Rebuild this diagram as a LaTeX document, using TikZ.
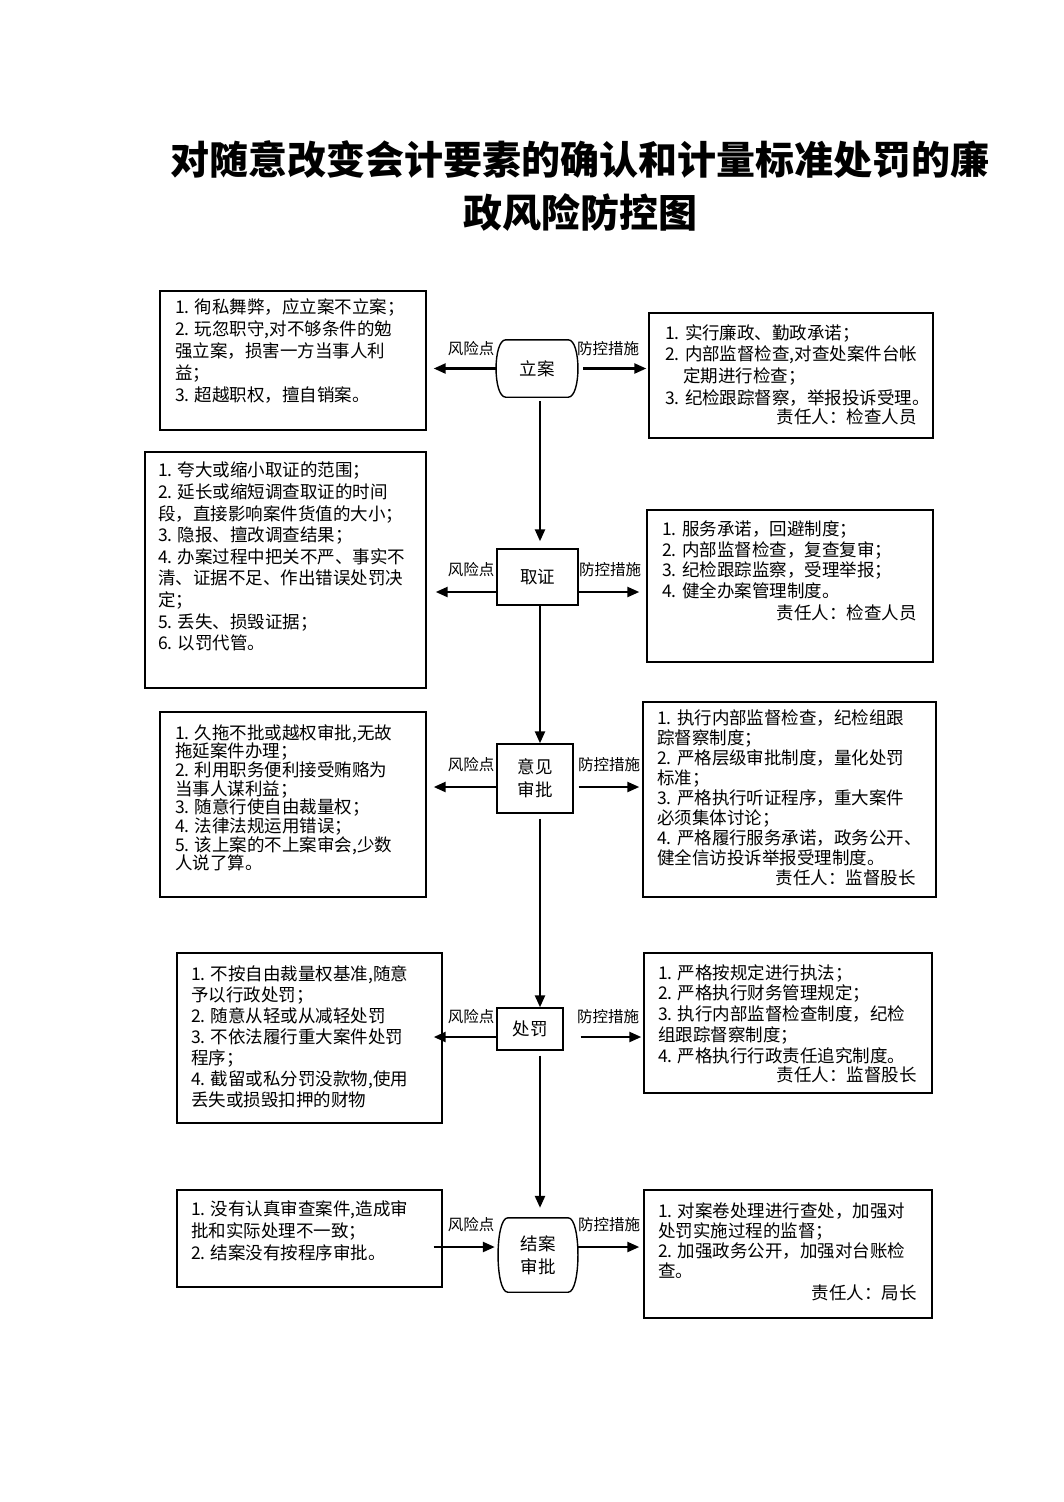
\documentclass[tikz,border=0pt]{standalone}
\usepackage{fontspec}
\setmainfont{Noto Sans CJK SC}
\usetikzlibrary{arrows.meta,fit}
\newcommand\drawbarrel[1]{%
 \draw[line width=1.4pt] ([xshift=10pt]#1.north west) -- ([xshift=-10pt]#1.north east)
   .. controls ([xshift=3pt]#1.north east) and ([xshift=3pt]#1.south east) .. ([xshift=-10pt]#1.south east)
   -- ([xshift=10pt]#1.south west)
   .. controls ([xshift=-3pt]#1.south west) and ([xshift=-3pt]#1.north west) .. ([xshift=10pt]#1.north west) -- cycle;}
\begin{document}
\begin{tikzpicture}[x=1pt,y=-1pt,
  box/.style={draw, line width=1.4pt, inner sep=0pt},
  txt/.style={anchor=north west, inner sep=0pt, align=left},
  arr/.style={line width=2.4pt, -{Triangle[length=12pt,width=10pt]}},
  lbl/.style={font=\fontsize{15.5}{18}\selectfont, inner sep=0pt},
  who/.style={anchor=east, inner sep=0pt, font=\fontsize{17.5}{20}\selectfont},
  proc/.style={inner sep=0pt},
  ptxt/.style={font=\fontsize{17.5}{23}\selectfont, align=center, inner sep=0pt}]
\useasboundingbox[fill=white] (0,0) rectangle (1063,1502);

% title
\node[font=\bfseries\fontsize{39}{53}\selectfont, align=center, inner sep=0pt] (title) at (580,186.5)
  {对随意改变会计要素的确认和计量标准处罚的廉\\政风险防控图};

\coordinate (axis) at (540,0);

% ---------- row 1 ----------
\node[box, fit={(160,291) (426,430)}] (L1) {};
\node[txt, font=\fontsize{17.5}{22}\selectfont] (L1t) at (175,298)
  {1. 徇私舞弊，应立案不立案；\\2. 玩忽职守,对不够条件的勉\\强立案，损害一方当事人利\\益；\\3. 超越职权，擅自销案。};
\node[proc, fit={(496,340) (578,397)}] (la) {};
\drawbarrel{la}
\node[ptxt] (lat) at (la.center) {立案};
\node[box, fit={(649,313) (933,438)}] (R1) {};
\node[txt, font=\fontsize{17.5}{21.7}\selectfont] (R1t) at (665,324)
  {1. 实行廉政、勤政承诺；\\2. 内部监督检查,对查处案件台帐\\\hspace*{18pt}定期进行检查；\\3. 纪检跟踪督察，举报投诉受理。};
\node[who] (R1w) at (917,417) {责任人：检查人员};
\node[lbl] (k1) at (471,349) {风险点};
\node[lbl] (f1) at (608,349) {防控措施};
\draw[arr, shorten >=7pt] (la.west) -- (la.west -| L1.east);
\draw[arr, shorten <=5pt, shorten >=2pt] (la.east) -- (la.east -| R1.west);

% ---------- row 2 ----------
\node[box, fit={(145,452) (426,688)}] (L2) {};
\node[txt, font=\fontsize{17.5}{21.6}\selectfont] (L2t) at (158,462)
  {1. 夸大或缩小取证的范围；\\2. 延长或缩短调查取证的时间\\段，直接影响案件货值的大小；\\3. 隐报、擅改调查结果；\\4. 办案过程中把关不严、事实不\\清、证据不足、作出错误处罚决\\定；\\5. 丢失、损毁证据；\\6. 以罚代管。};
\node[box, fit={(497,549) (578,605)}] (qz) {};
\node[ptxt] (qzt) at (qz.center) {取证};
\node[box, fit={(647,510) (933,662)}] (R2) {};
\node[txt, font=\fontsize{17.5}{20.5}\selectfont] (R2t) at (662,521)
  {1. 服务承诺，回避制度；\\2. 内部监督检查，复查复审；\\3. 纪检跟踪监察，受理举报；\\4. 健全办案管理制度。};
\node[who] (R2w) at (917,613) {责任人：检查人员};
\node[lbl] (k2) at (471,570) {风险点};
\node[lbl] (f2) at (610,570) {防控措施};
\coordinate (qzL) at ([yshift=-15pt]qz.west);
\coordinate (qzR) at ([yshift=-15pt]qz.east);
\draw[arr, shorten >=9pt] (qzL) -- (qzL -| L2.east);
\draw[arr, shorten >=7pt] (qzR) -- (qzR -| R2.west);

% ---------- row 3 ----------
\node[box, fit={(160,712) (426,897)}] (L3) {};
\node[txt, font=\fontsize{17.5}{18.7}\selectfont] (L3t) at (175,724)
  {1. 久拖不批或越权审批,无故\\拖延案件办理；\\2. 利用职务便利接受贿赂为\\当事人谋利益；\\3. 随意行使自由裁量权；\\4. 法律法规运用错误；\\5. 该上案的不上案审会,少数\\人说了算。};
\node[box, fit={(497,744) (573,813)}] (yj) {};
\node[ptxt] (yjt) at (yj.center) {意见\\审批};
\node[box, fit={(643,702) (936,897)}] (R3) {};
\node[txt, font=\fontsize{17.5}{20.1}\selectfont] (R3t) at (657,709)
  {1. 执行内部监督检查，纪检组跟\\踪督察制度；\\2. 严格层级审批制度，量化处罚\\标准；\\3. 严格执行听证程序，重大案件\\必须集体讨论；\\4. 严格履行服务承诺，政务公开、\\健全信访投诉举报受理制度。};
\node[who] (R3w) at (916,878) {责任人：监督股长};
\node[lbl] (k3) at (471,765) {风险点};
\node[lbl] (f3) at (609,765) {防控措施};
\coordinate (yjL) at ([yshift=-8.5pt]yj.west);
\coordinate (yjR) at ([yshift=-8.5pt]yj.east);
\draw[arr, shorten >=7pt] (yjL) -- (yjL -| L3.east);
\draw[arr, shorten <=5pt, shorten >=3pt] (yjR) -- (yjR -| R3.west);

% ---------- row 4 ----------
\node[box, fit={(177,953) (442,1123)}] (L4) {};
\node[txt, font=\fontsize{17.5}{21.1}\selectfont] (L4t) at (191,965)
  {1. 不按自由裁量权基准,随意\\予以行政处罚；\\2. 随意从轻或从减轻处罚\\3. 不依法履行重大案件处罚\\程序；\\4. 截留或私分罚没款物,使用\\丢失或损毁扣押的财物};
\node[box, fit={(497,1008) (563,1050)}] (cf) {};
\node[ptxt] (cft) at (cf.center) {处罚};
\node[box, fit={(644,953) (932,1093)}] (R4) {};
\node[txt, font=\fontsize{17.5}{20.75}\selectfont] (R4t) at (658,964)
  {1. 严格按规定进行执法；\\2. 严格执行财务管理规定；\\3. 执行内部监督检查制度，纪检\\组跟踪督察制度；\\4. 严格执行行政责任追究制度。};
\node[who] (R4w) at (917,1075) {责任人：监督股长};
\node[lbl] (k4) at (471,1017) {风险点};
\node[lbl] (f4) at (608,1017) {防控措施};
\coordinate (cfL) at ([yshift=-8pt]cf.west);
\coordinate (cfR) at ([yshift=-8pt]cf.east);
\draw[arr, shorten >=-9pt] (cfL) -- (cfL -| L4.east);
\draw[arr, shorten <=17pt, shorten >=2pt] (cfR) -- (cfR -| R4.west);

% ---------- row 5 ----------
\node[box, fit={(177,1190) (442,1287)}] (L5) {};
\node[txt, font=\fontsize{17.5}{22}\selectfont] (L5t) at (191,1200)
  {1. 没有认真审查案件,造成审\\批和实际处理不一致；\\2. 结案没有按程序审批。};
\node[proc, fit={(498,1218) (578,1292)}] (ja) {};
\drawbarrel{ja}
\node[ptxt] (jat) at (ja.center) {结案\\审批};
\node[box, fit={(644,1190) (932,1318)}] (R5) {};
\node[txt, font=\fontsize{17.5}{20}\selectfont] (R5t) at (658,1202)
  {1. 对案卷处理进行查处，加强对\\处罚实施过程的监督；\\2. 加强政务公开，加强对台账检\\查。};
\node[who] (R5w) at (917,1293) {责任人：局长};
\node[lbl] (k5) at (471,1225) {风险点};
\node[lbl] (f5) at (609,1225) {防控措施};
\coordinate (jaL) at ([yshift=8pt]ja.west);
\coordinate (jaR) at ([yshift=8pt]ja.east);
\draw[arr, shorten <=-9pt, shorten >=3pt] (jaL -| L5.east) -- (jaL);
\draw[arr, shorten >=4pt] (jaR) -- (jaR -| R5.west);

% ---------- vertical flow ----------
\draw[arr, shorten <=4pt, shorten >=7pt] (la.south -| axis) -- (qz.north -| axis);
\draw[arr] (qz.south -| axis) -- (yj.north -| axis);
\draw[arr, shorten <=5pt] (yj.south -| axis) -- (cf.north -| axis);
\draw[arr, shorten <=5pt, shorten >=10pt] (cf.south -| axis) -- (ja.north -| axis);
\end{tikzpicture}
\end{document}
